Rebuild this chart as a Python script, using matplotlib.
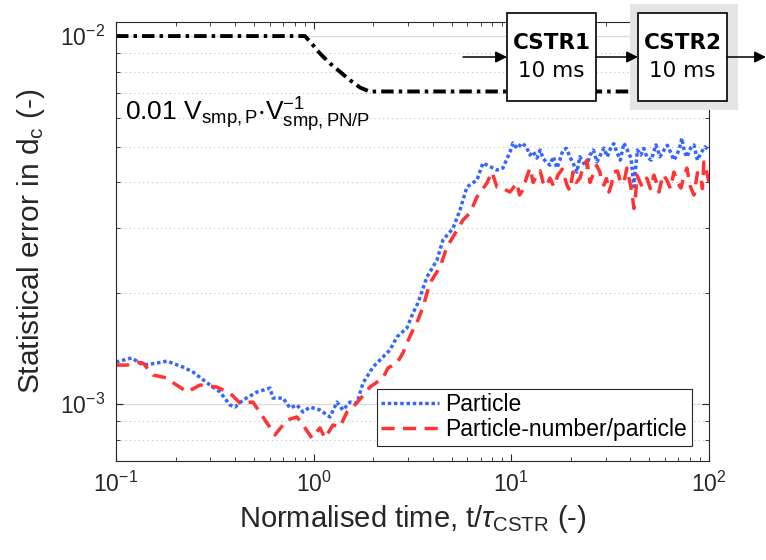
import matplotlib
matplotlib.use('Agg')
import matplotlib.pyplot as plt
from matplotlib.patches import Rectangle, FancyArrowPatch

plt.rcParams['font.family'] = ['Liberation Sans', 'DejaVu Sans']
plt.rcParams['mathtext.fontset'] = 'custom'
plt.rcParams['mathtext.rm'] = 'Liberation Sans'
plt.rcParams['mathtext.it'] = 'Liberation Sans:italic'
plt.rcParams['mathtext.default'] = 'regular'

# data
blue_t = [0.1, 0.12, 0.137, 0.161, 0.181, 0.218, 0.245, 0.299, 0.336, 0.377, 0.40, 0.439,
          0.517, 0.601, 0.622, 0.70, 0.759, 0.823, 0.883, 0.958, 1.076, 1.209, 1.312, 1.406,
          1.526, 1.656, 1.776, 1.995, 2.165, 2.43, 2.638, 2.964, 3.18, 3.37, 3.742, 4.205,
          4.508, 5.066, 5.495, 5.96, 6.699, 7.184, 8.455, 9.07, 9.84, 10.19, 10.7, 11.31,
          11.9, 12.42, 12.9, 13.48, 14.0, 14.45, 15.0, 15.68, 16.3, 17.01, 17.6, 18.24, 19.0,
          19.79, 20.6, 21.47, 22.2, 23.02, 24.0, 24.98, 26.0, 27.1, 28.2, 29.4, 30.6, 31.9,
          33.0, 34.2, 35.6, 37.1, 38.6, 40.3, 41.7, 43.4, 45.2, 46.8, 48.5, 51.0, 53.9, 56.5,
          59.2, 61.6, 64.2, 66.4, 68.8, 70.8, 72.9, 75.0, 77.3, 80.5, 83.9, 87.4, 91.0, 95.3,
          100]
blue_v = [1.30e-3, 1.334e-3, 1.276e-3, 1.292e-3, 1.308e-3, 1.26e-3, 1.222e-3, 1.126e-3,
          1.078e-3, 0.994e-3, 0.981e-3, 1.025e-3, 1.078e-3, 1.105e-3, 1.038e-3, 1.038e-3,
          0.975e-3, 0.994e-3, 0.951e-3, 0.981e-3, 0.963e-3, 0.922e-3, 1.012e-3, 0.963e-3,
          1.012e-3, 1.006e-3, 1.14e-3, 1.26e-3, 1.317e-3, 1.402e-3, 1.521e-3, 1.609e-3,
          1.768e-3, 1.882e-3, 2.214e-3, 2.462e-3, 2.79e-3, 3.0e-3, 3.366e-3, 3.888e-3,
          4.062e-3, 4.518e-3, 4.324e-3, 4.378e-3, 4.84e-3, 5.12e-3, 4.95e-3, 5.12e-3,
          5.0e-3, 4.75e-3, 4.85e-3, 4.66e-3, 4.9e-3, 4.66e-3, 4.55e-3, 4.46e-3, 4.7e-3,
          4.38e-3, 4.6e-3, 4.9e-3, 4.95e-3, 4.69e-3, 4.5e-3, 4.27e-3, 4.7e-3, 4.55e-3,
          4.4e-3, 4.75e-3, 4.9e-3, 4.55e-3, 4.75e-3, 4.96e-3, 4.7e-3, 4.99e-3, 5.1e-3,
          4.84e-3, 4.6e-3, 5.12e-3, 4.9e-3, 4.66e-3, 3.9e-3, 4.9e-3, 4.75e-3, 4.95e-3,
          4.69e-3, 4.6e-3, 5.06e-3, 4.7e-3, 4.9e-3, 5.05e-3, 4.81e-3, 4.6e-3, 4.75e-3,
          4.95e-3, 5.28e-3, 4.85e-3, 4.69e-3, 4.95e-3, 5.06e-3, 4.6e-3, 4.81e-3, 5.0e-3,
          4.9e-3]

red_t = [0.1, 0.114, 0.128, 0.137, 0.154, 0.181, 0.192, 0.229, 0.266, 0.324, 0.377, 0.424,
         0.493, 0.554, 0.637, 0.733, 0.823, 0.883, 0.980, 1.076, 1.141, 1.252, 1.358, 1.474,
         1.58, 1.755, 1.927, 2.242, 2.376, 2.638, 2.83, 2.964, 3.18, 3.37, 3.572, 3.876,
         4.354, 4.725, 5.066, 5.691, 6.174, 6.699, 7.525, 7.98, 8.455, 8.755, 9.84, 10.67,
         11.0, 11.45, 11.9, 12.42, 12.9, 13.48, 14.0, 14.45, 15.0, 15.68, 16.4, 17.21, 18.1,
         19.11, 19.8, 20.5, 21.3, 22.23, 23.1, 24.12, 25.0, 25.86, 27.0, 28.07, 28.7, 29.4,
         30.3, 31.16, 32.1, 33.04, 34.4, 35.85, 37.1, 38.43, 39.6, 40.74, 41.7, 42.4, 43.2,
         45.8, 48.5, 50.5, 52.64, 54.2, 55.8, 58.5, 61.25, 63.8, 66.45, 69.2, 72.1, 74.6,
         77.3, 80.5, 83.9, 87.4, 91.0, 92.6, 94.2, 97.0, 100]
red_v = [1.276e-3, 1.276e-3, 1.30e-3, 1.292e-3, 1.199e-3, 1.177e-3, 1.148e-3, 1.078e-3,
         1.126e-3, 1.112e-3, 1.071e-3, 1.006e-3, 1.012e-3, 0.922e-3, 0.824e-3, 0.905e-3,
         0.922e-3, 0.877e-3, 0.808e-3, 0.861e-3, 0.808e-3, 0.877e-3, 0.866e-3, 0.951e-3,
         0.981e-3, 1.045e-3, 1.112e-3, 1.177e-3, 1.253e-3, 1.292e-3, 1.376e-3, 1.465e-3,
         1.589e-3, 1.691e-3, 1.835e-3, 2.133e-3, 2.356e-3, 2.67e-3, 2.843e-3, 3.162e-3,
         3.304e-3, 3.652e-3, 3.985e-3, 4.27e-3, 3.888e-3, 3.888e-3, 3.768e-3, 3.985e-3,
         3.7e-3, 3.815e-3, 4.1e-3, 4.378e-3, 4.0e-3, 4.19e-3, 4.3e-3, 4.01e-3, 3.9e-3,
         4.11e-3, 3.9e-3, 4.19e-3, 4.35e-3, 3.936e-3, 3.8e-3, 4.27e-3, 4.0e-3, 4.11e-3,
         4.4e-3, 4.60e-3, 4.0e-3, 4.19e-3, 4.45e-3, 4.27e-3, 4.0e-3, 3.936e-3, 4.1e-3,
         3.768e-3, 3.95e-3, 4.27e-3, 4.3e-3, 3.985e-3, 4.0e-3, 4.378e-3, 4.05e-3, 3.768e-3,
         3.4e-3, 3.6e-3, 4.19e-3, 3.9e-3, 4.11e-3, 3.85e-3, 4.19e-3, 4.0e-3, 3.768e-3,
         4.2e-3, 4.062e-3, 3.85e-3, 4.27e-3, 4.0e-3, 3.864e-3, 4.15e-3, 4.378e-3, 3.9e-3,
         3.697e-3, 4.25e-3, 4.19e-3, 3.85e-3, 4.546e-3, 4.3e-3, 4.01e-3]

ratio_t = [0.1, 0.904, 0.992, 1.076, 1.209, 1.358, 1.526, 1.715, 1.927, 2.1, 100]
ratio_v = [1e-2, 1e-2, 9.45e-3, 8.97e-3, 8.43e-3, 8.0e-3, 7.59e-3, 7.25e-3, 7.06e-3,
           7.07e-3, 7.07e-3]

fig = plt.figure(figsize=(7.66, 5.6), dpi=100)
ax = fig.add_axes([116/766, 1 - 461/560, 593/766, 439/560])

ax.plot(ratio_t, ratio_v, color='black', lw=2.8, ls=(0, (3.2, 1.3, 0.9, 1.3)))
ax.plot(blue_t, blue_v, color='#3366ff', lw=2.5, ls=(0, (1, 0.8)), label='Particle')
ax.plot(red_t, red_v, color='#ff3333', lw=2.5, ls=(0, (3.8, 2.4)), label='Particle-number/particle')

ax.set_xscale('log')
ax.set_yscale('log')
ax.set_xlim(0.1, 100)
ax.set_ylim(7e-4, 1.092e-2)

ax.yaxis.grid(True, which='major', color='#dcdcdc', lw=1, ls='-')
ax.yaxis.grid(True, which='minor', color='#bdbdbd', lw=0.8, ls=(0, (1, 3)))
ax.set_axisbelow(True)

ax.tick_params(which='both', direction='in', top=True, right=True, labelsize=16.5,
               color='#262626', labelcolor='#262626')
ax.tick_params(which='major', length=5, width=0.8, pad=8)
ax.tick_params(which='minor', length=3, width=0.6)
ax.yaxis.set_minor_formatter(plt.NullFormatter())
for s in ax.spines.values():
    s.set_color('#262626')
    s.set_linewidth(0.8)

ax.set_xlabel(r'Normalised time, t/$\mathit{\tau}_{CSTR}$ (-)', fontsize=21, color='#262626',
              labelpad=4)
ax.set_ylabel(r'Statistical error in d$_c$ (-)', fontsize=21.5, color='#262626', labelpad=9)

ax.text(0.015, 0.775, r'0.01 V$_{smp,P}$$\cdot$V$^{-1}_{smp,PN/P}$', transform=ax.transAxes,
        fontsize=19, color='black')

leg = ax.legend(loc='lower right', bbox_to_anchor=(0.971, 0.034), borderaxespad=0,
                fontsize=16.5, fancybox=False, framealpha=1, edgecolor='#262626',
                handlelength=2.5, handletextpad=0.3, labelspacing=0.1, borderpad=0.2)
leg.get_frame().set_linewidth(0.8)

# reactor diagram on top of the axes
def fx(px):
    return px / 766

def fy(py):
    return 1 - py / 560

fig.add_artist(Rectangle((fx(630), fy(110)), 108/766, 106/560, transform=fig.transFigure,
                         facecolor='#e5e5e5', edgecolor='none', zorder=5))
for x0, name in [(507, 'CSTR1'), (638, 'CSTR2')]:
    fig.add_artist(Rectangle((fx(x0), fy(101)), 89/766, 88/560, transform=fig.transFigure,
                             facecolor='white', edgecolor='black', lw=1.2, zorder=6))
    fig.text(fx(x0 + 44.5), fy(43), name, ha='center', va='center', fontsize=15.5,
             fontweight='bold', family='DejaVu Sans', zorder=7)
    fig.text(fx(x0 + 44.5), fy(71), '10 ms', ha='center', va='center', fontsize=15.5,
             family='DejaVu Sans', zorder=7)

for xa, xb in [(463, 507), (596, 638), (727, 766)]:
    fig.add_artist(FancyArrowPatch((fx(xa), fy(57)), (fx(xb), fy(57)), transform=fig.transFigure,
                                   arrowstyle='-|>', mutation_scale=17, lw=1.1, color='black',
                                   shrinkA=0, shrinkB=0, zorder=7))

fig.savefig('out.png', dpi=100)
